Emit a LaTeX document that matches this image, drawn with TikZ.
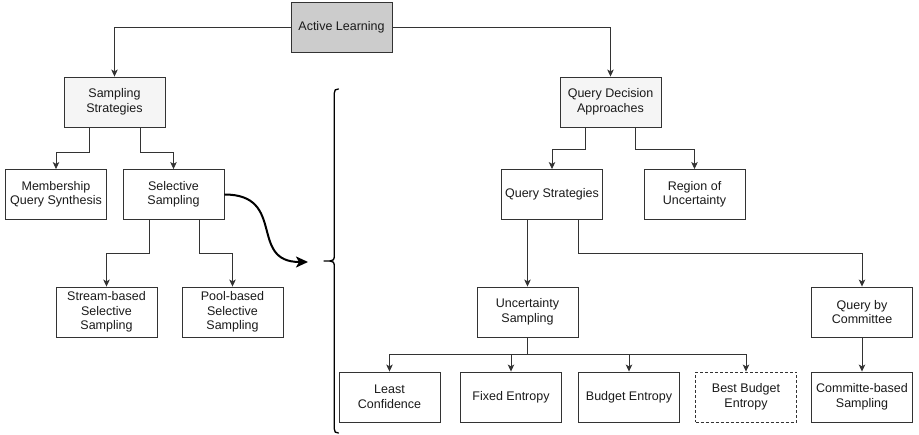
\documentclass[tikz,border=0pt]{standalone}
\usepackage{fontspec}
\setmainfont{Liberation Sans}
\usetikzlibrary{arrows.meta}
\definecolor{edgecol}{HTML}{333333}
\definecolor{txtcol}{HTML}{1A1A1A}
\definecolor{rootfill}{HTML}{CCCCCC}
\definecolor{midfill}{HTML}{F5F5F5}
\begin{document}
\begin{tikzpicture}[x=1pt,y=-1pt,
  box/.style={draw=edgecol, line width=0.9pt, fill=white, minimum width=101pt, minimum height=50pt,
    inner sep=1pt, align=center, text=txtcol,
    font=\fontsize{12.5pt}{14.5pt}\selectfont},
  rootbox/.style={box, fill=rootfill},
  midbox/.style={box, fill=midfill},
  dashbox/.style={box, dash pattern=on 3pt off 2pt},
  arr/.style={draw=edgecol, line width=0.8pt, -{Stealth[length=7pt,width=6.5pt,inset=1.8pt]}},
  bigarr/.style={draw=black, line width=2pt, -{Stealth[length=12pt,width=11pt,inset=3pt]}},
  bracestyle/.style={draw=black, line width=1.3pt, line cap=round}
]
\path[use as bounding box, fill=white] (0,0) rectangle (919,435);

\node[rootbox] (al) at (341.5,27) {Active Learning};
\node[midbox] (ss) at (114.5,102) {Sampling\\Strategies};
\node[midbox] (qda) at (610.5,102) {Query Decision\\Approaches};
\node[box] (mqs) at (56,194.5) {Membership\\Query Synthesis};
\node[box] (sel) at (173.5,194.5) {Selective\\Sampling};
\node[box] (stream) at (106.5,312) {Stream-based\\Selective\\Sampling};
\node[box] (pool) at (232.5,312) {Pool-based\\Selective\\Sampling};
\node[box] (qs) at (552,194.5) {Query Strategies};
\node[box] (rou) at (694.5,194.5) {Region of\\Uncertainty};
\node[box] (us) at (527.5,312) {Uncertainty\\Sampling};
\node[box] (qbc) at (862,312) {Query by\\Committee};
\node[box] (lc) at (389.5,397) {Least\\Confidence};
\node[box] (fe) at (511,397) {Fixed Entropy};
\node[box] (be) at (629,397) {Budget Entropy};
\node[dashbox] (bbe) at (746,397) {Best Budget\\Entropy};
\node[box] (cbs) at (862,397) {Committe-based\\Sampling};

% top level
\draw[arr] (al.west) -| (ss.north);
\draw[arr] (al.east) -| (qda.north);

% sampling strategies
\draw[arr] ([xshift=-25.5pt]ss.south) -- ++(0,25) -| (mqs.north);
\draw[arr] ([xshift=25.5pt]ss.south) -- ++(0,25) -| (sel.north);

% selective sampling
\draw[arr] ([xshift=-24.5pt]sel.south) -- ++(0,33) -| (stream.north);
\draw[arr] ([xshift=25.5pt]sel.south) -- ++(0,33) -| (pool.north);

% query decision approaches
\draw[arr] ([xshift=-25pt]qda.south) -- ++(0,22) -| (qs.north);
\draw[arr] ([xshift=25pt]qda.south) -- ++(0,22) -| (rou.north);

% query strategies
\draw[arr] (qs.south -| us.north) -- (us.north);
\draw[arr] ([xshift=26pt]qs.south) -- ++(0,33) -| (qbc.north);

% uncertainty sampling
\coordinate (usj) at ([yshift=-17pt]us.south);
\draw[arr] (us.south) -- (usj) -| (lc.north);
\draw[arr] (usj) -| (fe.north);
\draw[arr] (usj) -| (be.north);
\draw[arr] (usj) -| (bbe.north);

% committee
\draw[arr] (qbc.south) -- (cbs.north);

% curved arrow and brace
\coordinate (cend) at (308,262);
\draw[bigarr] (sel.east) .. controls (287,194.5) and (248,262) .. (cend);
\coordinate (btop) at (338.5,89);
\coordinate (btip) at (324,261);
\coordinate (bbot) at (338.5,433);
\draw[bracestyle] (btop) .. controls (335.5,89) and (334.3,90) .. (334.3,93)
  -- (334.3,256) .. controls (334.3,259.5) and (333,261) .. (330,261) -- (btip);
\draw[bracestyle] (330,261) .. controls (333,261) and (334.3,262.5) .. (334.3,266)
  -- (334.3,429) .. controls (334.3,432) and (335.5,433) .. (bbot);
\end{tikzpicture}
\end{document}
